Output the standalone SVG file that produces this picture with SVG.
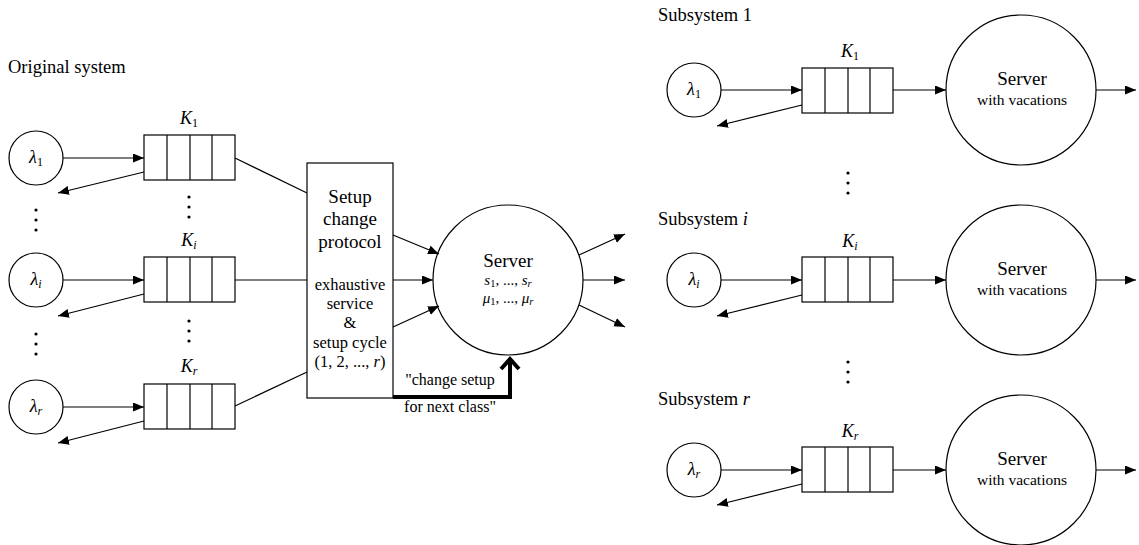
<svg xmlns="http://www.w3.org/2000/svg" width="1139" height="545" viewBox="0 0 1139 545">
<style>
.s{fill:none;stroke:#000;stroke-width:1.2}
.n{fill:#fff;stroke:#000;stroke-width:1.2}
.dot{fill:#000}
</style>
<defs>
<marker id="ah" markerUnits="userSpaceOnUse" markerWidth="12" markerHeight="10" refX="11" refY="4.5" orient="auto" viewBox="0 0 12 10">
<path d="M0,0 L11,4.5 L0,9 z" fill="#000"/>
</marker>
<g id="queue">
<rect x="0" y="0" width="91" height="45" class="n"/>
<line x1="23" y1="0" x2="23" y2="45" class="s"/>
<line x1="46" y1="0" x2="46" y2="45" class="s"/>
<line x1="68" y1="0" x2="68" y2="45" class="s"/>
</g>
<g id="vdots">
<circle cx="0" cy="0" r="1.6" class="dot"/>
<circle cx="0" cy="10" r="1.6" class="dot"/>
<circle cx="0" cy="20" r="1.6" class="dot"/>
</g>
</defs>

<text font-family="Liberation Serif" font-size="18.5" x="8" y="73">Original system</text>
<text font-family="Liberation Serif" font-size="18.5" x="658" y="21">Subsystem 1</text>
<text font-family="Liberation Serif" font-size="18.5" x="658" y="225">Subsystem <tspan font-style="italic">i</tspan></text>
<text font-family="Liberation Serif" font-size="18.5" x="658" y="405">Subsystem <tspan font-style="italic">r</tspan></text>

<!-- left sources -->
<g id="src1"><circle cx="36" cy="158" r="27" class="n"/><text font-family="Liberation Serif" font-size="18" text-anchor="middle" x="36" y="163"><tspan font-style="italic">λ</tspan><tspan font-size="12" dy="3">1</tspan></text></g>
<g id="srci"><circle cx="36" cy="280" r="27" class="n"/><text font-family="Liberation Serif" font-size="18" text-anchor="middle" x="36" y="285"><tspan font-style="italic">λ</tspan><tspan font-size="12" font-style="italic" dy="3">i</tspan></text></g>
<g id="srcr"><circle cx="36" cy="407" r="27" class="n"/><text font-family="Liberation Serif" font-size="18" text-anchor="middle" x="36" y="412"><tspan font-style="italic">λ</tspan><tspan font-size="12" font-style="italic" dy="3">r</tspan></text></g>

<!-- left queues -->
<g id="q1"><use href="#queue" x="144" y="135"/><text font-family="Liberation Serif" font-size="18" text-anchor="middle" x="189" y="124"><tspan font-style="italic">K</tspan><tspan font-size="12" dy="3">1</tspan></text></g>
<g id="qi"><use href="#queue" x="144" y="257"/><text font-family="Liberation Serif" font-size="18" text-anchor="middle" x="189" y="246"><tspan font-style="italic">K</tspan><tspan font-size="12" font-style="italic" dy="3">i</tspan></text></g>
<g id="qr"><use href="#queue" x="144" y="384"/><text font-family="Liberation Serif" font-size="18" text-anchor="middle" x="189" y="372"><tspan font-style="italic">K</tspan><tspan font-size="12" font-style="italic" dy="3">r</tspan></text></g>

<g id="dotsL">
<use href="#vdots" x="36" y="210"/>
<use href="#vdots" x="36" y="334"/>
<use href="#vdots" x="189" y="197"/>
<use href="#vdots" x="189" y="321"/>
</g>

<!-- setup box -->
<g id="setup">
<rect x="307" y="163" width="86" height="235" class="n"/>
<text font-family="Liberation Serif" font-size="19" text-anchor="middle" x="350" y="203">Setup</text>
<text font-family="Liberation Serif" font-size="19" text-anchor="middle" x="350" y="225">change</text>
<text font-family="Liberation Serif" font-size="19" text-anchor="middle" x="350" y="248">protocol</text>
<text font-family="Liberation Serif" font-size="16.5" text-anchor="middle" x="350" y="290">exhaustive</text>
<text font-family="Liberation Serif" font-size="16.5" text-anchor="middle" x="350" y="309">service</text>
<text font-family="Liberation Serif" font-size="16.5" text-anchor="middle" x="350" y="328">&amp;</text>
<text font-family="Liberation Serif" font-size="16.5" text-anchor="middle" x="350" y="348">setup cycle</text>
<text font-family="Liberation Serif" font-size="16.5" text-anchor="middle" x="350" y="367">(1, 2, ..., <tspan font-style="italic">r</tspan>)</text>
</g>

<!-- main server -->
<g id="server">
<circle cx="508" cy="280" r="75" class="n"/>
<text font-family="Liberation Serif" font-size="19" text-anchor="middle" x="508" y="267">Server</text>
<text font-family="Liberation Serif" font-size="15" text-anchor="middle" x="508" y="285"><tspan font-style="italic">s</tspan><tspan font-size="10.5" dy="2">1</tspan><tspan dy="-2">, ..., </tspan><tspan font-style="italic">s</tspan><tspan font-size="10.5" font-style="italic" dy="2">r</tspan></text>
<text font-family="Liberation Serif" font-size="15" text-anchor="middle" x="508" y="303"><tspan font-style="italic">μ</tspan><tspan font-size="10.5" dy="2">1</tspan><tspan dy="-2">, ..., </tspan><tspan font-style="italic">μ</tspan><tspan font-size="10.5" font-style="italic" dy="2">r</tspan></text>
</g>

<g id="changeLabel">
<text font-family="Liberation Serif" font-size="16" text-anchor="middle" x="450" y="385">"change setup</text>
<text font-family="Liberation Serif" font-size="16" text-anchor="middle" x="450" y="412">for next class"</text>
</g>

<!-- right subsystems -->
<g id="sub1">
<circle cx="694" cy="90" r="27" class="n"/><text font-family="Liberation Serif" font-size="18" text-anchor="middle" x="694" y="95"><tspan font-style="italic">λ</tspan><tspan font-size="12" dy="3">1</tspan></text>
<use href="#queue" x="802" y="68"/><text font-family="Liberation Serif" font-size="18" text-anchor="middle" x="850" y="57"><tspan font-style="italic">K</tspan><tspan font-size="12" dy="3">1</tspan></text>
<circle cx="1021" cy="90" r="75" class="n"/>
<text font-family="Liberation Serif" font-size="19" text-anchor="middle" x="1022" y="85">Server</text><text font-family="Liberation Serif" font-size="15.5" text-anchor="middle" x="1022" y="105">with vacations</text>
</g>
<g id="subi">
<circle cx="694" cy="280" r="27" class="n"/><text font-family="Liberation Serif" font-size="18" text-anchor="middle" x="694" y="285"><tspan font-style="italic">λ</tspan><tspan font-size="12" font-style="italic" dy="3">i</tspan></text>
<use href="#queue" x="802" y="257"/><text font-family="Liberation Serif" font-size="18" text-anchor="middle" x="850" y="247"><tspan font-style="italic">K</tspan><tspan font-size="12" font-style="italic" dy="3">i</tspan></text>
<circle cx="1021" cy="280" r="75" class="n"/>
<text font-family="Liberation Serif" font-size="19" text-anchor="middle" x="1022" y="275">Server</text><text font-family="Liberation Serif" font-size="15.5" text-anchor="middle" x="1022" y="295">with vacations</text>
</g>
<g id="subr">
<circle cx="694" cy="470" r="27" class="n"/><text font-family="Liberation Serif" font-size="18" text-anchor="middle" x="694" y="475"><tspan font-style="italic">λ</tspan><tspan font-size="12" font-style="italic" dy="3">r</tspan></text>
<use href="#queue" x="802" y="447"/><text font-family="Liberation Serif" font-size="18" text-anchor="middle" x="850" y="437"><tspan font-style="italic">K</tspan><tspan font-size="12" font-style="italic" dy="3">r</tspan></text>
<circle cx="1021" cy="470" r="75" class="n"/>
<text font-family="Liberation Serif" font-size="19" text-anchor="middle" x="1022" y="465">Server</text><text font-family="Liberation Serif" font-size="15.5" text-anchor="middle" x="1022" y="485">with vacations</text>
</g>
<g id="dotsR">
<use href="#vdots" x="848" y="173"/>
<use href="#vdots" x="848" y="362"/>
</g>

<!-- connectors -->
<g id="connectors" class="s">
<line x1="63" y1="158" x2="144" y2="158" marker-end="url(#ah)"/>
<line x1="144" y1="172" x2="58" y2="193" marker-end="url(#ah)"/>
<line x1="63" y1="280" x2="144" y2="280" marker-end="url(#ah)"/>
<line x1="144" y1="294" x2="58" y2="316" marker-end="url(#ah)"/>
<line x1="63" y1="407" x2="144" y2="407" marker-end="url(#ah)"/>
<line x1="144" y1="421" x2="58" y2="443" marker-end="url(#ah)"/>
<line x1="235" y1="158" x2="307" y2="193"/>
<line x1="235" y1="280" x2="307" y2="280"/>
<line x1="235" y1="406" x2="307" y2="372"/>
<line x1="393" y1="235" x2="439" y2="254" marker-end="url(#ah)"/>
<line x1="393" y1="280" x2="433" y2="280" marker-end="url(#ah)"/>
<line x1="393" y1="327" x2="439" y2="306" marker-end="url(#ah)"/>
<line x1="579" y1="255" x2="625" y2="234" marker-end="url(#ah)"/>
<line x1="583" y1="280" x2="625" y2="280" marker-end="url(#ah)"/>
<line x1="579" y1="305" x2="625" y2="327" marker-end="url(#ah)"/>
<polyline points="393,397 510,397 510,358" style="stroke-width:4;fill:none"/>
<polyline points="501,369 510,359 519,369" style="stroke-width:4;fill:none"/>

<line x1="721" y1="90" x2="802" y2="90" marker-end="url(#ah)"/>
<line x1="802" y1="105" x2="717" y2="126" marker-end="url(#ah)"/>
<line x1="893" y1="90" x2="946" y2="90" marker-end="url(#ah)"/>
<line x1="1096" y1="90" x2="1136" y2="90" marker-end="url(#ah)"/>

<line x1="721" y1="280" x2="802" y2="280" marker-end="url(#ah)"/>
<line x1="802" y1="295" x2="717" y2="316" marker-end="url(#ah)"/>
<line x1="893" y1="280" x2="946" y2="280" marker-end="url(#ah)"/>
<line x1="1096" y1="280" x2="1136" y2="280" marker-end="url(#ah)"/>

<line x1="721" y1="470" x2="802" y2="470" marker-end="url(#ah)"/>
<line x1="802" y1="484" x2="717" y2="505" marker-end="url(#ah)"/>
<line x1="893" y1="470" x2="946" y2="470" marker-end="url(#ah)"/>
<line x1="1096" y1="470" x2="1136" y2="470" marker-end="url(#ah)"/>
</g>
</svg>
